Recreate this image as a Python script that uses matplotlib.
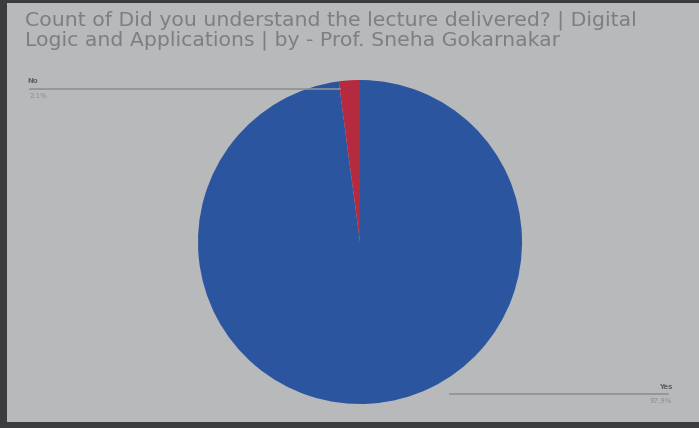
import matplotlib
matplotlib.use("Agg")
import matplotlib.pyplot as plt

title = "Count of Did you understand the lecture delivered? | Digital\nLogic and Applications | by - Prof. Sneha Gokarnakar"
labels = ["Yes", "No"]
values = [97.9, 2.1]
pct_labels = ["97.9%", "2.1%"]
colors = ["#2c55a0", "#b52a3e"]

W, H = 699, 428
fig = plt.figure(figsize=(W / 100, H / 100), dpi=100)
fig.patch.set_facecolor("#3a3c3f")
ax = fig.add_axes([0, 0, 1, 1])

# panel (screen area)
ax.add_patch(plt.Rectangle((7, 3), W - 7, H - 9, facecolor="#b7b9bb", edgecolor="none", zorder=0))

wedges, _ = ax.pie(values, colors=colors, startangle=-90, counterclock=True,
                   center=(360, 242), radius=162,
                   wedgeprops=dict(linewidth=0), frame=True)
ax.set_xlim(0, W)
ax.set_ylim(H, 0)
ax.set_aspect("equal")
ax.axis("off")

ax.text(25, 10, title, fontsize=14.7, color="#7c7f83", va="top", ha="left",
        linespacing=1.05, family="DejaVu Sans")

# leader lines and labels
ax.plot([30, 340], [89, 89], color="#8f9194", lw=1.2, zorder=1)
ax.text(27, 84, labels[1], fontsize=5, color="#5f6266", ha="left", va="bottom", fontweight="bold")
ax.text(30, 93, pct_labels[1], fontsize=5, color="#8c8f92", ha="left", va="top")

ax.plot([450, 668], [394, 394], color="#8f9194", lw=1.2, zorder=1)
ax.text(672, 390, labels[0], fontsize=5, color="#5f6266", ha="right", va="bottom", fontweight="bold")
ax.text(672, 398, pct_labels[0], fontsize=5, color="#8c8f92", ha="right", va="top")

fig.savefig("out.png", dpi=100, facecolor=fig.get_facecolor())
